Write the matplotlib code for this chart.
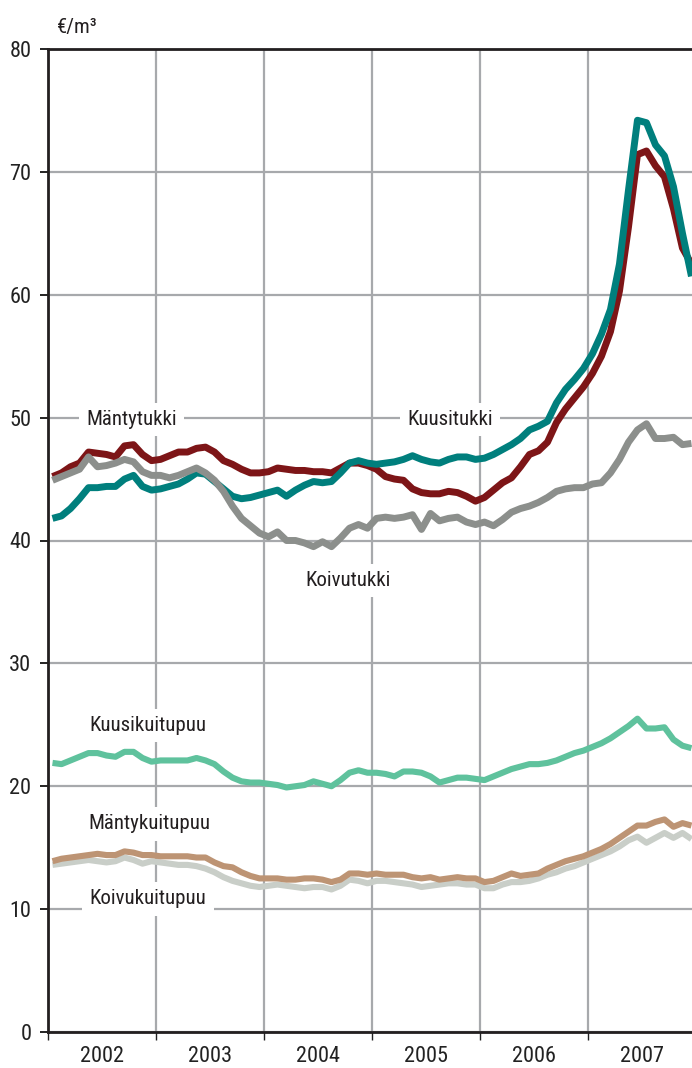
import matplotlib
matplotlib.use("Agg")
import matplotlib.pyplot as plt
from matplotlib import font_manager
import numpy as np

available = {f.name for f in font_manager.fontManager.ttflist}
cands = ['Liberation Sans Narrow', 'Roboto Condensed', 'Open Sans Condensed',
         'DejaVu Sans Condensed']
FONT = [c for c in cands if c in available] + ['DejaVu Sans']
plt.rcParams['font.family'] = FONT
plt.rcParams['font.stretch'] = 'condensed'

years = ['2002', '2003', '2004', '2005', '2006', '2007']
unit_label = '€/m³'

kuusitukki = [41.8, 42.0, 42.6, 43.4, 44.3, 44.3, 44.4, 44.4, 45.0, 45.3, 44.4, 44.1,
              44.2, 44.4, 44.6, 45.0, 45.5, 45.4, 44.8, 44.2, 43.6, 43.4, 43.5, 43.7,
              43.9, 44.1, 43.6, 44.1, 44.5, 44.8, 44.7, 44.8, 45.5, 46.3, 46.5, 46.3,
              46.2, 46.3, 46.4, 46.6, 46.9, 46.6, 46.4, 46.3, 46.6, 46.8, 46.8, 46.6,
              46.7, 47.0, 47.4, 47.8, 48.3, 49.0, 49.3, 49.7, 51.2, 52.3, 53.1, 54.0,
              55.2, 56.8, 58.8, 62.5, 68.5, 74.2, 74.0, 72.2, 71.3, 68.8, 65.0, 61.5]

mantytukki = [45.2, 45.5, 46.0, 46.3, 47.2, 47.1, 47.0, 46.8, 47.7, 47.8, 47.0, 46.5,
              46.6, 46.9, 47.2, 47.2, 47.5, 47.6, 47.2, 46.5, 46.2, 45.8, 45.5, 45.5,
              45.6, 45.9, 45.8, 45.7, 45.7, 45.6, 45.6, 45.5, 45.9, 46.3, 46.3, 46.1,
              45.8, 45.2, 45.0, 44.9, 44.2, 43.9, 43.8, 43.8, 44.0, 43.9, 43.6, 43.2,
              43.5, 44.1, 44.7, 45.1, 46.0, 47.0, 47.3, 48.0, 49.6, 50.7, 51.6, 52.5,
              53.6, 55.0, 57.0, 60.3, 65.5, 71.4, 71.7, 70.5, 69.6, 67.0, 63.8, 62.5]

koivutukki = [44.9, 45.2, 45.5, 45.8, 46.8, 46.0, 46.1, 46.3, 46.6, 46.4, 45.6, 45.3,
              45.3, 45.1, 45.3, 45.6, 45.9, 45.5, 44.9, 44.0, 42.8, 41.8, 41.2, 40.6,
              40.3, 40.7, 40.0, 40.0, 39.8, 39.5, 39.9, 39.5, 40.2, 41.0, 41.3, 41.0,
              41.8, 41.9, 41.8, 41.9, 42.1, 40.9, 42.2, 41.6, 41.8, 41.9, 41.5, 41.3,
              41.5, 41.2, 41.7, 42.3, 42.6, 42.8, 43.1, 43.5, 44.0, 44.2, 44.3, 44.3,
              44.6, 44.7, 45.5, 46.6, 48.0, 49.0, 49.5, 48.3, 48.3, 48.4, 47.8, 47.9]

kuusikuitupuu = [21.9, 21.8, 22.1, 22.4, 22.7, 22.7, 22.5, 22.4, 22.8, 22.8, 22.3, 22.0,
                 22.1, 22.1, 22.1, 22.1, 22.3, 22.1, 21.8, 21.2, 20.7, 20.4, 20.3, 20.3,
                 20.2, 20.1, 19.9, 20.0, 20.1, 20.4, 20.2, 20.0, 20.5, 21.1, 21.3, 21.1,
                 21.1, 21.0, 20.8, 21.2, 21.2, 21.1, 20.8, 20.3, 20.5, 20.7, 20.7, 20.6,
                 20.5, 20.8, 21.1, 21.4, 21.6, 21.8, 21.8, 21.9, 22.1, 22.4, 22.7, 22.9,
                 23.2, 23.5, 23.9, 24.4, 24.9, 25.5, 24.7, 24.7, 24.8, 23.8, 23.3, 23.1]

mantykuitupuu = [13.9, 14.1, 14.2, 14.3, 14.4, 14.5, 14.4, 14.4, 14.7, 14.6, 14.4, 14.4,
                 14.3, 14.3, 14.3, 14.3, 14.2, 14.2, 13.8, 13.5, 13.4, 13.0, 12.7, 12.5,
                 12.5, 12.5, 12.4, 12.4, 12.5, 12.5, 12.4, 12.2, 12.4, 12.9, 12.9, 12.8,
                 12.9, 12.8, 12.8, 12.8, 12.6, 12.5, 12.6, 12.4, 12.5, 12.6, 12.5, 12.5,
                 12.2, 12.3, 12.6, 12.9, 12.7, 12.8, 12.9, 13.3, 13.6, 13.9, 14.1, 14.3,
                 14.6, 14.9, 15.3, 15.8, 16.3, 16.8, 16.8, 17.1, 17.3, 16.7, 17.0, 16.8]

koivukuitupuu = [13.6, 13.7, 13.8, 13.9, 14.0, 13.9, 13.8, 13.9, 14.2, 14.0, 13.7, 13.9,
                 13.8, 13.7, 13.6, 13.6, 13.5, 13.3, 13.0, 12.6, 12.3, 12.1, 11.9, 11.8,
                 11.9, 12.0, 11.9, 11.8, 11.7, 11.8, 11.8, 11.6, 11.9, 12.4, 12.3, 12.1,
                 12.3, 12.3, 12.2, 12.1, 12.0, 11.8, 11.9, 12.0, 12.1, 12.1, 12.0, 12.0,
                 11.7, 11.7, 12.0, 12.2, 12.2, 12.3, 12.5, 12.8, 13.0, 13.3, 13.5, 13.8,
                 14.1, 14.4, 14.7, 15.1, 15.6, 15.9, 15.4, 15.8, 16.2, 15.8, 16.2, 15.7]

months = np.arange(len(kuusitukki))

W, H = 692, 1068
fig = plt.figure(figsize=(W / 100, H / 100), dpi=100)
ax = fig.add_axes([48 / W, 36 / H, (W - 48) / W, (1032 - 49) / H])

grid_c = '#a7a9ac'
ax.set_xlim(-0.5, 71.06)
ax.set_ylim(0, 80)

ax.set_axisbelow(True)
ax.set_yticks(np.arange(0, 81, 10))
ax.yaxis.grid(True, color=grid_c, lw=1.6)
ax.set_xticks([5.5 + 12 * i for i in range(len(years))])
ax.set_xticklabels(years)
ax.set_xticks([-0.5 + 12 * i for i in range(len(years))], minor=True)
ax.xaxis.grid(True, which='minor', color=grid_c, lw=1.6)
ax.xaxis.grid(False, which='major')

ax.tick_params(axis='y', direction='out', length=6, width=1.4, pad=6,
               labelsize=16, colors='#222222')
ax.tick_params(axis='x', which='major', length=0, pad=10, labelsize=16,
               colors='#222222')
ax.tick_params(axis='x', which='minor', direction='out', length=6, width=1.0,
               color='#222222')

for s in ['left', 'bottom', 'top']:
    ax.spines[s].set_color('#231f20')
    ax.spines[s].set_linewidth(2.0)
ax.spines['right'].set_visible(False)

bbox = dict(boxstyle='square,pad=0.35', fc='white', ec='none')
labels = [
    ('Mäntytukki', 8.8, 50.0),
    ('Kuusitukki', 44.2, 50.0),
    ('Koivutukki', 32.8, 36.9),
    ('Kuusikuitupuu', 10.6, 25.1),
    ('Mäntykuitupuu', 10.8, 17.1),
    ('Koivukuitupuu', 10.6, 11.0),
]
for txt, xm, yv in labels:
    ax.text(xm, yv, txt, ha='center', va='center_baseline', fontsize=15,
            color='#231f20', bbox=bbox, zorder=1.5)

lw_big = 5.0
lw_small = 4.4
kw = dict(solid_joinstyle='round', solid_capstyle='butt', zorder=2)
ax.plot(months, koivukuitupuu, color='#c9cec8', lw=lw_small, **kw)
ax.plot(months, mantykuitupuu, color='#bd9474', lw=lw_small, **kw)
ax.plot(months, kuusikuitupuu, color='#5fc29d', lw=lw_small, **kw)
ax.plot(months, mantytukki, color='#7d1517', lw=lw_big, **kw)
ax.plot(months, kuusitukki, color='#007f7d', lw=lw_big, **kw)
ax.plot(months, koivutukki, color='#8c8f8c', lw=lw_big, **kw)

fig.text(57 / W, 1 - 28 / H, unit_label, ha='left', va='center', fontsize=15,
         color='#231f20')

fig.savefig('out.png', dpi=100)
